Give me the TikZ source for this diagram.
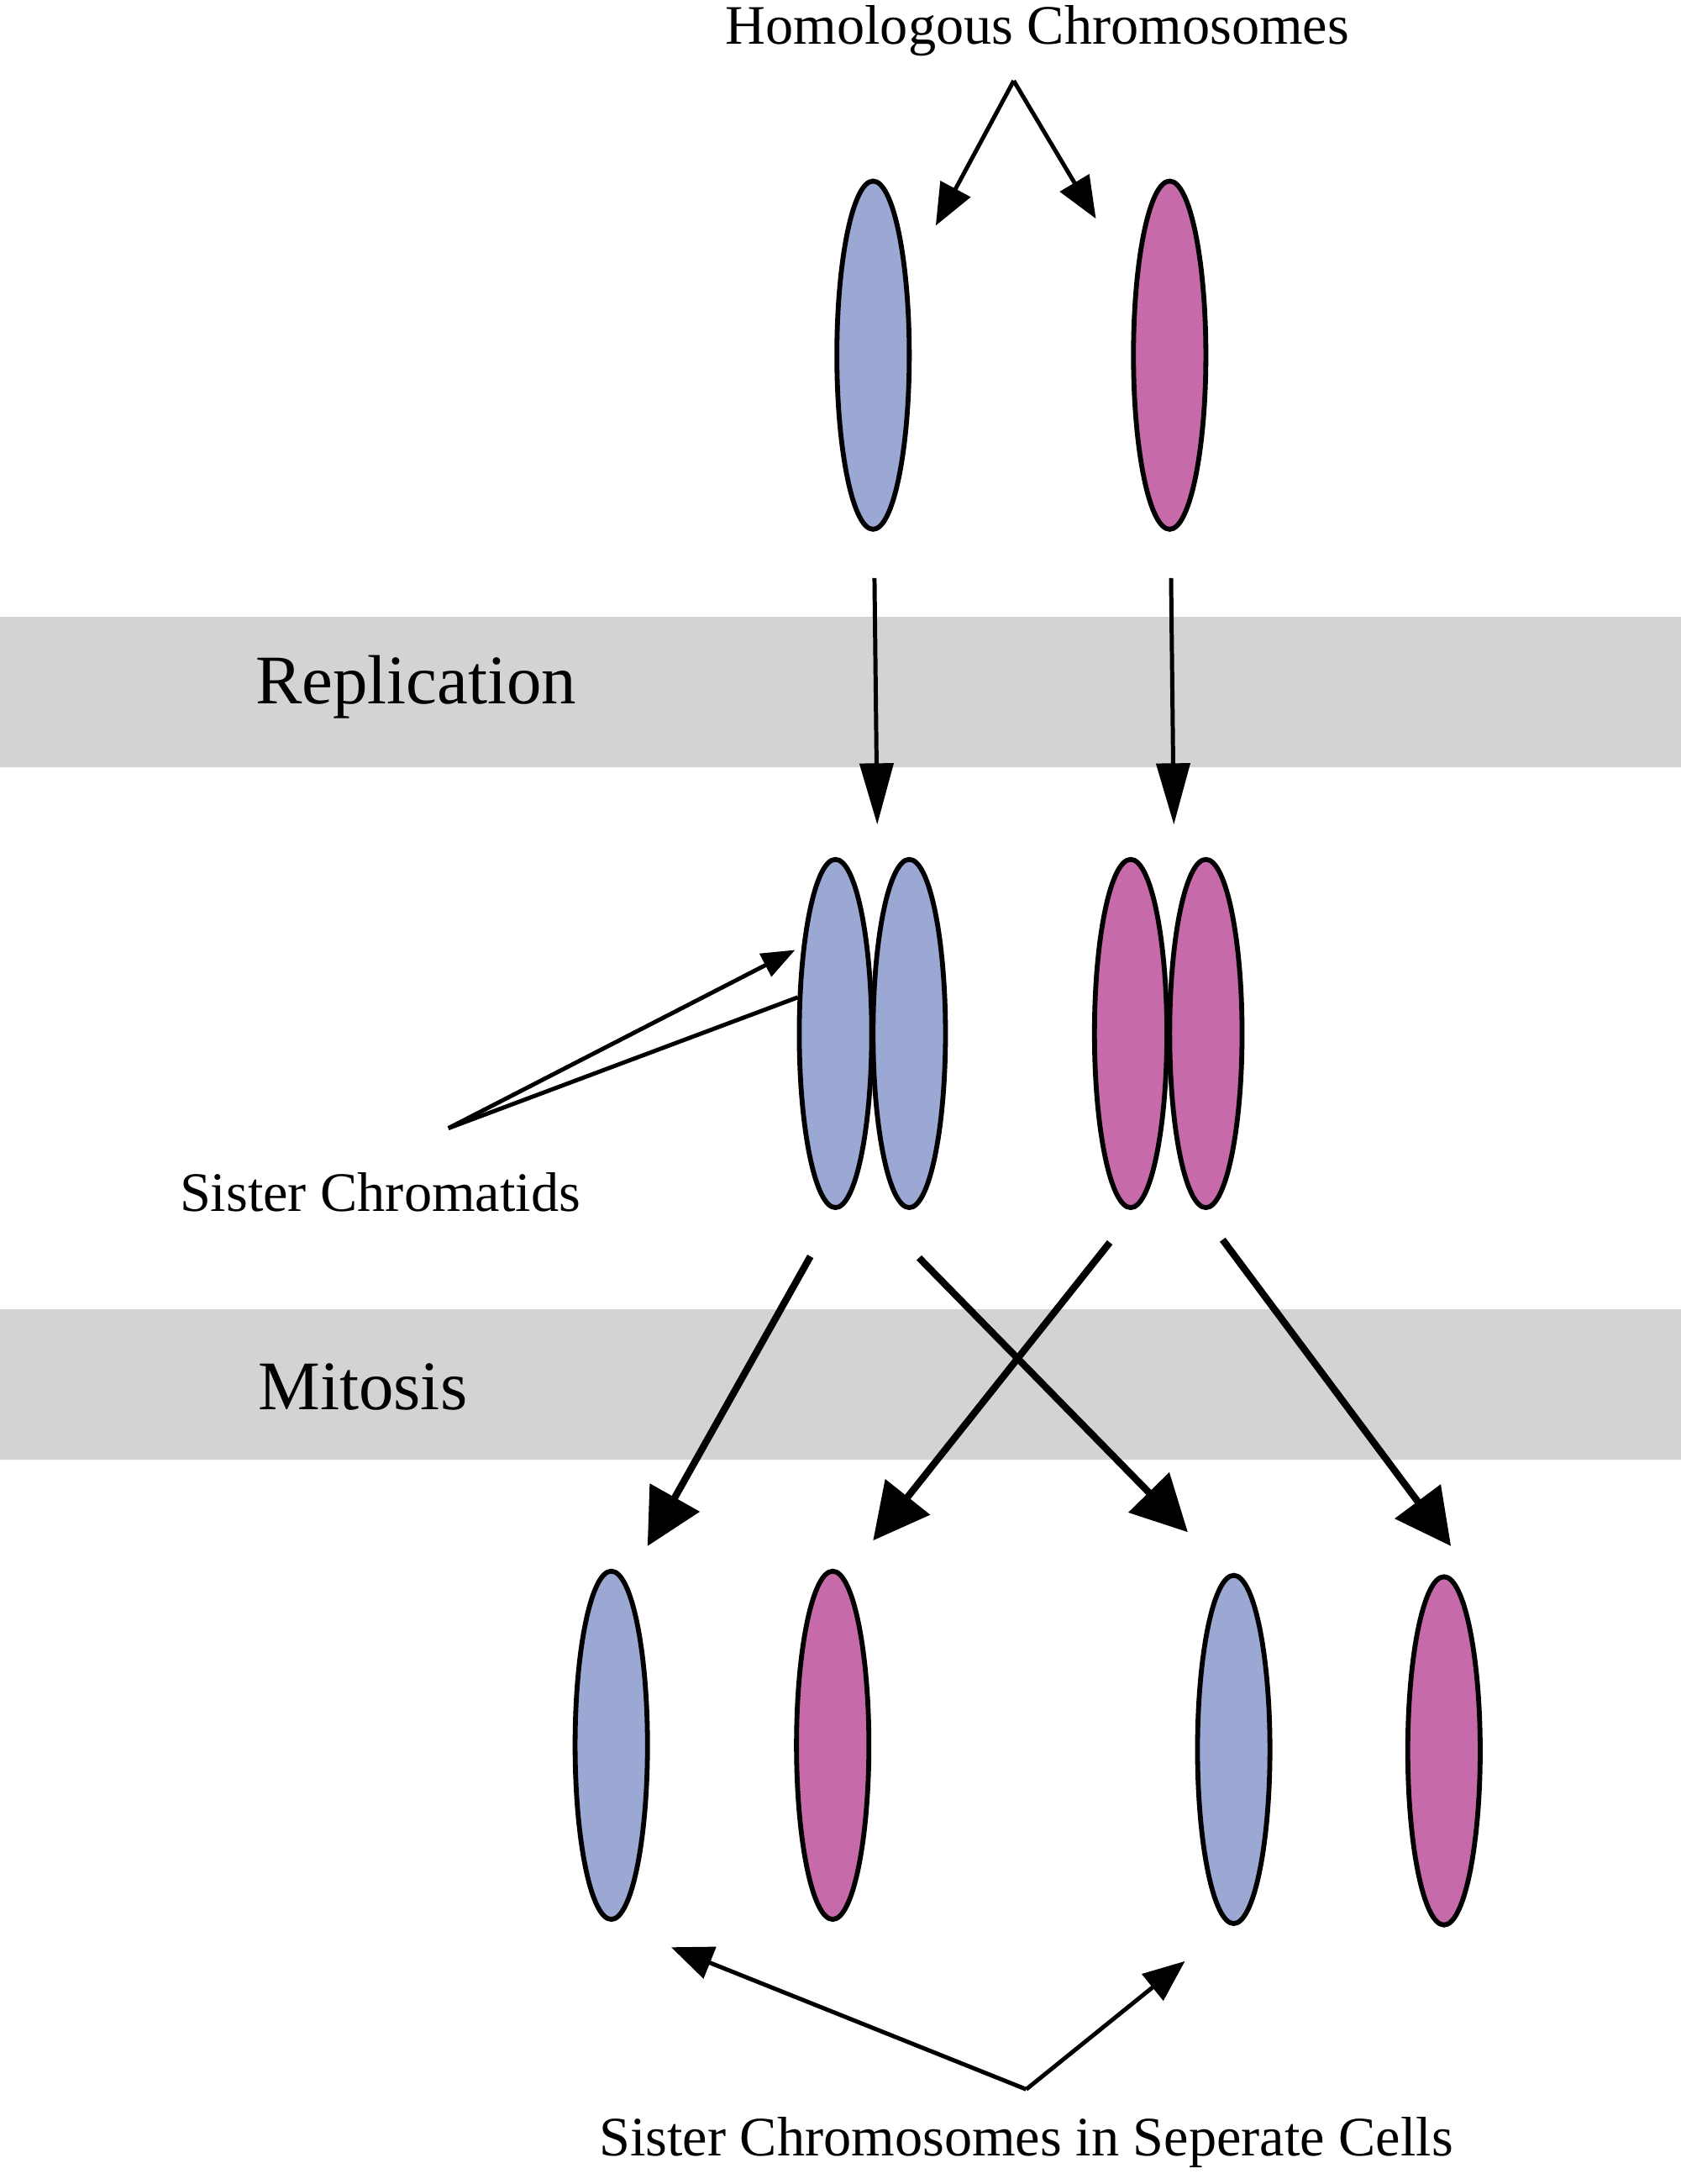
\documentclass[tikz,border=0pt]{standalone}
\usepackage{fontspec}
\setmainfont{Liberation Serif}
\usetikzlibrary{arrows.meta,shapes.geometric}
\definecolor{cblue}{HTML}{9BA8D4}
\definecolor{cpink}{HTML}{C76AAA}
\definecolor{band}{HTML}{D3D3D3}
\begin{document}
\begin{tikzpicture}[x=1pt,y=-1pt,
  chrom/.style={ellipse,draw=black,line width=3.5pt,minimum width=52pt,minimum height=250pt,inner sep=0pt},
  B/.style={chrom,fill=cblue}, P/.style={chrom,fill=cpink},
  lbl/.style={font=\fontsize{40}{48}\selectfont},
  big/.style={font=\fontsize{50}{60}\selectfont},
  thin/.style={line width=3pt,-{Triangle[length=32pt,width=22pt]}},
  thick/.style={line width=5pt,-{Triangle[length=40pt,width=40pt]}},
  plain/.style={line width=3pt}]
\useasboundingbox (0,0) rectangle (1207,1568);
\fill[band] (0,443) rectangle (1207,551);
\fill[band] (0,940) rectangle (1207,1048);
\node[big,anchor=west] (rep) at (180,493) {Replication};
\node[big,anchor=west] (mit) at (182,996) {Mitosis};
\node[lbl] (hom) at (745,22) {Homologous Chromosomes};
\node[lbl] (sc) at (273,856) {Sister Chromatids};
\node[lbl] (scc) at (737,1538) {Sister Chromosomes in Seperate Cells};
\node[B] (t1) at (627,255) {};
\node[P] (t2) at (840,255) {};
\node[B] (m1) at (600,742) {};
\node[B] (m2) at (653,742) {};
\node[P] (m3) at (812,742) {};
\node[P] (m4) at (866,742) {};
\node[B] (b1) at (439,1253) {};
\node[P] (b2) at (598,1253) {};
\node[B] (b3) at (886,1256) {};
\node[P] (b4) at (1037,1257) {};
\coordinate (h) at (728,58);
\coordinate (h1) at (672,162); \coordinate (h2) at (787,157);
\draw[plain,-{Triangle[length=30pt,width=24pt]}] (h) -- (h1);
\draw[plain,-{Triangle[length=30pt,width=24pt]}] (h) -- (h2);
\coordinate (r1s) at (628,415); \coordinate (r1e) at (630,592);
\coordinate (r2s) at (841,415); \coordinate (r2e) at (843,592);
\draw[thin,-{Triangle[length=44pt,width=24pt]}] (r1s) -- (r1e);
\draw[thin,-{Triangle[length=44pt,width=24pt]}] (r2s) -- (r2e);
\coordinate (s) at (322,810);
\coordinate (s1) at (571,682); \coordinate (s2) at (573,716);
\draw[plain,-{Triangle[length=24pt,width=18pt]}] (s) -- (s1);
\draw[plain] (s) -- (s2);
\coordinate (a1) at (582,902); \coordinate (e1) at (465,1110);
\coordinate (a2) at (660,903); \coordinate (e2) at (853,1100);
\coordinate (a3) at (797,892); \coordinate (e3) at (627,1106);
\coordinate (a4) at (878,890); \coordinate (e4) at (1042,1110);
\draw[thick] (a1) -- (e1);
\draw[thick] (a2) -- (e2);
\draw[thick] (a3) -- (e3);
\draw[thick] (a4) -- (e4);
\coordinate (c) at (737,1500);
\coordinate (c1) at (482,1398); \coordinate (c2) at (851,1408);
\draw[plain,-{Triangle[length=30pt,width=24pt]}] (c) -- (c1);
\draw[plain,-{Triangle[length=30pt,width=24pt]}] (c) -- (c2);
\end{tikzpicture}
\end{document}
